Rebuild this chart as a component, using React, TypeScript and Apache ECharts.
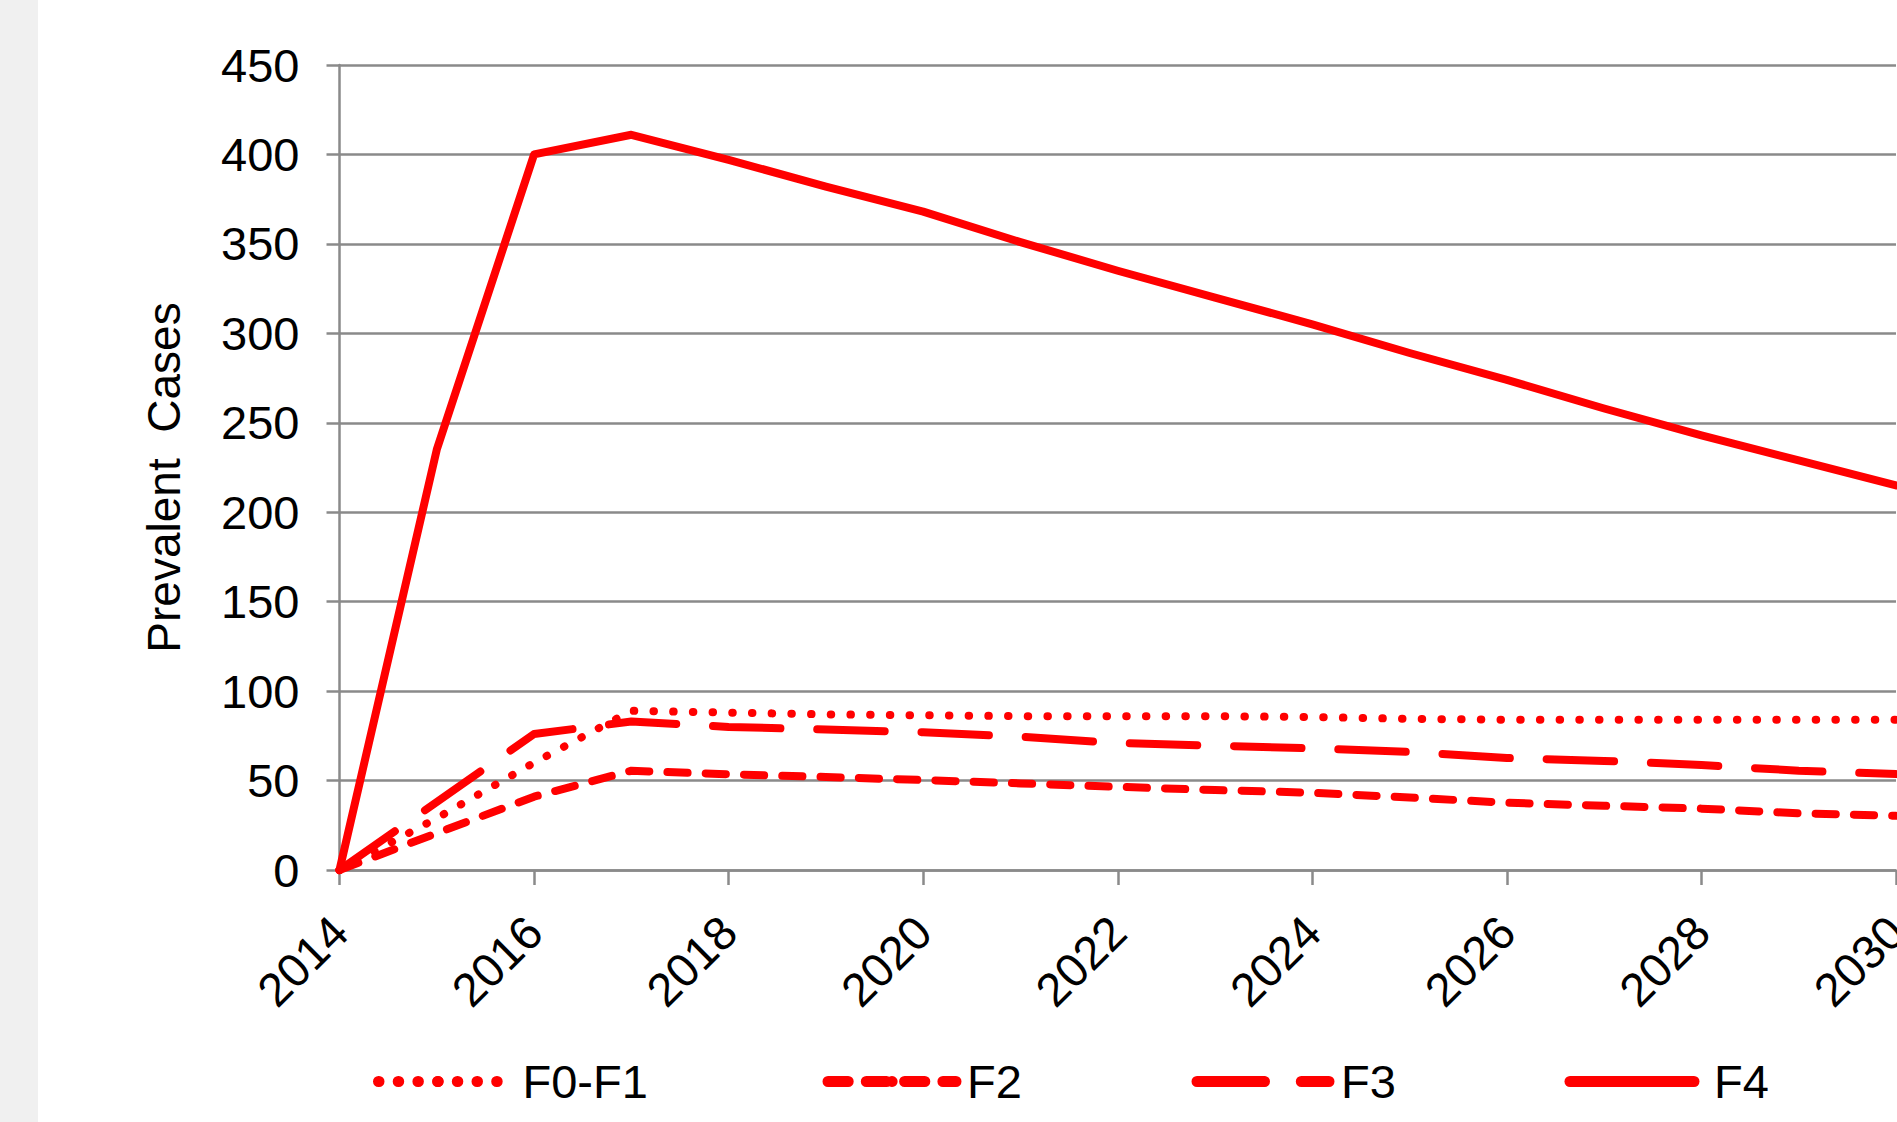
import React, { useEffect, useRef } from "react";
import * as echarts from "echarts";

const years = [2014, 2015, 2016, 2017, 2018, 2019, 2020, 2021, 2022, 2023, 2024, 2025, 2026, 2027, 2028, 2029, 2030];
const f0f1 = [0, 29, 60, 89, 88, 87, 86.5, 86, 86, 86, 85.5, 84.5, 84, 84, 84, 84, 84];
const f2 = [0, 20.6, 41, 55.5, 53.5, 52, 50.3, 48.4, 46.5, 44.7, 43.2, 40.5, 37.6, 35.9, 34.3, 31.7, 30.3];
const f3 = [0, 38, 76, 83, 80, 78.5, 77, 74.5, 71, 69.5, 68, 66, 62.6, 61, 58.7, 55.5, 53.6];
const f4 = [0, 235, 400, 411, 397, 382, 368, 351, 335, 320, 305, 289, 274, 258, 243, 229, 215];
const seriesNames = ["F0-F1", "F2", "F3", "F4"];
const yTicks = { min: 0, max: 450, interval: 50 };
const xTicks = { min: 2014, max: 2030, interval: 2 };
const yTitle = "Prevalent  Cases";

const FONT = "'Liberation Sans', Arial, sans-serif";
const RED = "#ff0000";
const GRAY = "#8a8a8a";

export default function App() {
  const ref = useRef<HTMLDivElement>(null);
  useEffect(() => {
    if (!ref.current) return;
    const chart = echarts.init(ref.current, undefined, { renderer: "svg" });
    const pairs = (vals: number[]) => years.map((y, i) => [y, vals[i]]);
    const dashes: (number[] | "solid")[] = [[0.5, 19.2], [20.2, 18.1], [67.5, 36.8], "solid"];
    const values = [f0f1, f2, f3, f4];
    const legendPos = [
      { left: 373, w: 119, pad: 20 },
      { left: 822.5, w: 128, pad: 6 },
      { left: 1191.5, w: 132, pad: 7 },
      { left: 1564.5, w: 124, pad: 15 },
    ];
    chart.setOption({
      animation: false,
      backgroundColor: "#ffffff",
      graphic: [
        { type: "rect", shape: { x: 0, y: 0, width: 38, height: 1122 }, style: { fill: "#f0f0f0" }, z: -10 },
      ],
      grid: { left: 339.5, top: 65, right: 1, bottom: 252, containLabel: false, outerBoundsMode: "none" },
      legend: seriesNames.map((n, i) => ({
        data: [n],
        left: legendPos[i].left,
        top: 1058,
        padding: 0,
        itemWidth: legendPos[i].w,
        itemHeight: 14,
        lineStyle: { width: 11, cap: "round" },
        textStyle: { fontFamily: FONT, fontSize: 47, color: "#000", padding: [0, 0, 0, legendPos[i].pad] },
      })),
      xAxis: {
        type: "value",
        min: xTicks.min,
        max: xTicks.max,
        interval: xTicks.interval,
        axisLine: { show: true, lineStyle: { color: GRAY, width: 2.5 } },
        axisTick: { show: true, length: 15, lineStyle: { color: GRAY, width: 2.5 } },
        splitLine: { show: false },
        axisLabel: {
          rotate: 45,
          margin: 54,
          align: "right",
          verticalAlign: "middle",
          fontFamily: FONT,
          fontSize: 47,
          color: "#000",
          showMaxLabel: true,
          showMinLabel: true,
          hideOverlap: false,
          formatter: (v: number) => String(v),
        },
      },
      yAxis: {
        type: "value",
        min: yTicks.min,
        max: yTicks.max,
        interval: yTicks.interval,
        name: yTitle,
        nameLocation: "middle",
        nameRotate: 90,
        nameGap: 153,
        nameTextStyle: { fontFamily: FONT, fontSize: 46, color: "#000", padding: [0, 20, 0, 0] },
        axisLine: { show: true, lineStyle: { color: GRAY, width: 2.5 } },
        axisTick: { show: true, length: 13, lineStyle: { color: GRAY, width: 2.5 } },
        splitLine: { show: true, lineStyle: { color: GRAY, width: 2.5 } },
        axisLabel: { margin: 40, fontFamily: FONT, fontSize: 47, color: "#000" },
      },
      series: seriesNames.map((n, i) => ({
        name: n,
        type: "line",
        data: pairs(values[i]),
        symbol: "none",
        showSymbol: false,
        clip: false,
        z: 2 + i,
        lineStyle: { color: RED, width: 8, type: dashes[i], cap: "round", join: "round" },
        itemStyle: { color: RED },
      })),
    });
    return () => chart.dispose();
  }, []);
  return (
    <div
      ref={ref}
      style={{ position: "absolute", left: 0, top: 0, width: 1897, height: 1122, background: "#fff" }}
    />
  );
}
